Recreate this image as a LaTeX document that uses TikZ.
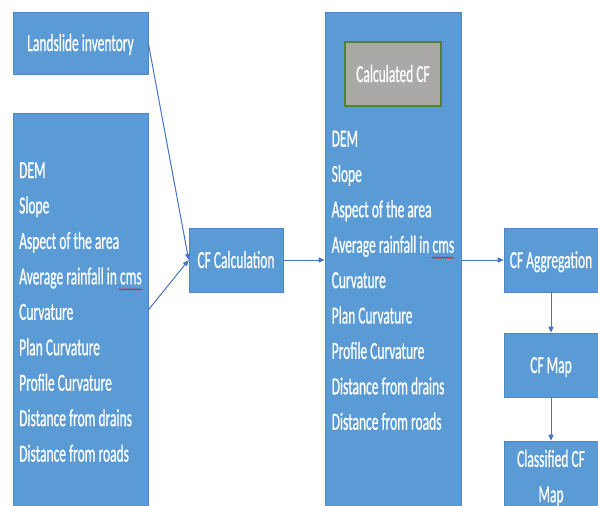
\documentclass[tikz,border=0pt]{standalone}
\usepackage{fontspec}
\setmainfont{Carlito}[FakeStretch=0.55,FakeBold=0.6]
\usetikzlibrary{arrows.meta,calc,decorations.pathmorphing}
\definecolor{boxblue}{HTML}{5B9BD5}
\definecolor{boxedge}{HTML}{4F88C0}
\definecolor{arrowblue}{HTML}{4472C4}
\definecolor{cfgray}{HTML}{ABA8A8}
\definecolor{cfgreen}{HTML}{548235}
\begin{document}
\begin{tikzpicture}[x=1pt,y=-1pt,
 box/.style={rectangle, fill=boxblue, draw=boxedge, line width=0.6pt, inner sep=0pt, text=white, font=\fontsize{24.5}{35.4}\selectfont},
 onebox/.style={box, text height=16pt, text depth=0pt},
 item/.style={anchor=base west, inner sep=0pt, text=white, font=\fontsize{24.5}{35.4}\selectfont},
 link/.style={draw=arrowblue, line width=1pt, -{Triangle[length=6pt,width=5pt]}},
 squiggle/.style={draw=red, line width=0.5pt, decorate, decoration={snake, amplitude=0.7pt, segment length=2.5pt}}
]
\useasboundingbox (0,0) rectangle (598,506);
\clip (0,0) rectangle (598,506);
\node[onebox, minimum width=135pt, minimum height=62pt] (inv) at (80.5,43) {Landslide inventory};
\node[box, minimum width=135pt, minimum height=394pt] (inputs) at (80.5,310) {};
\node[onebox, minimum width=94pt, minimum height=64pt] (calc) at (236,260) {CF Calculation};
\node[box, minimum width=136pt, minimum height=495pt] (factors) at (393,259.5) {};
\node[onebox, fill=cfgray, draw=cfgreen, line width=2pt, minimum width=96pt, minimum height=64pt] (calccf) at (393,74) {Calculated CF};
\foreach \t [count=\i] in {DEM, Slope, Aspect of the area, Average rainfall in cms, Curvature, Plan Curvature, Profile Curvature, Distance from drains, Distance from roads}{
  \node[item] (a\i) at (19,{178+35.45*(\i-1)}) {\t};
  \node[item] (b\i) at (331.5,{146.5+35.4*(\i-1)}) {\t};
}
\draw[squiggle] ($(a4.base east)+(-23,5)$) -- ($(a4.base east)+(0,5)$);
\draw[squiggle] ($(b4.base east)+(-23,5)$) -- ($(b4.base east)+(0,5)$);
\node[onebox, minimum width=94pt, minimum height=64pt] (agg) at (551,260) {CF Aggregation};
\node[onebox, minimum width=94pt, minimum height=64pt] (map) at (551,365) {CF Map};
\node[box, align=center, minimum width=94pt, minimum height=74pt] (class) at (551,478) {Classified CF\\Map};
\draw[link] (inv.east) -- (calc.west);
\draw[link] (inputs.east) -- (calc.west);
\draw[link] (calc.east) -- (calc.east -| factors.west);
\draw[link] (factors.east |- agg.west) -- (agg.west);
\draw[link] (agg) -- (map);
\draw[link] (map) -- (class);
\end{tikzpicture}
\end{document}
